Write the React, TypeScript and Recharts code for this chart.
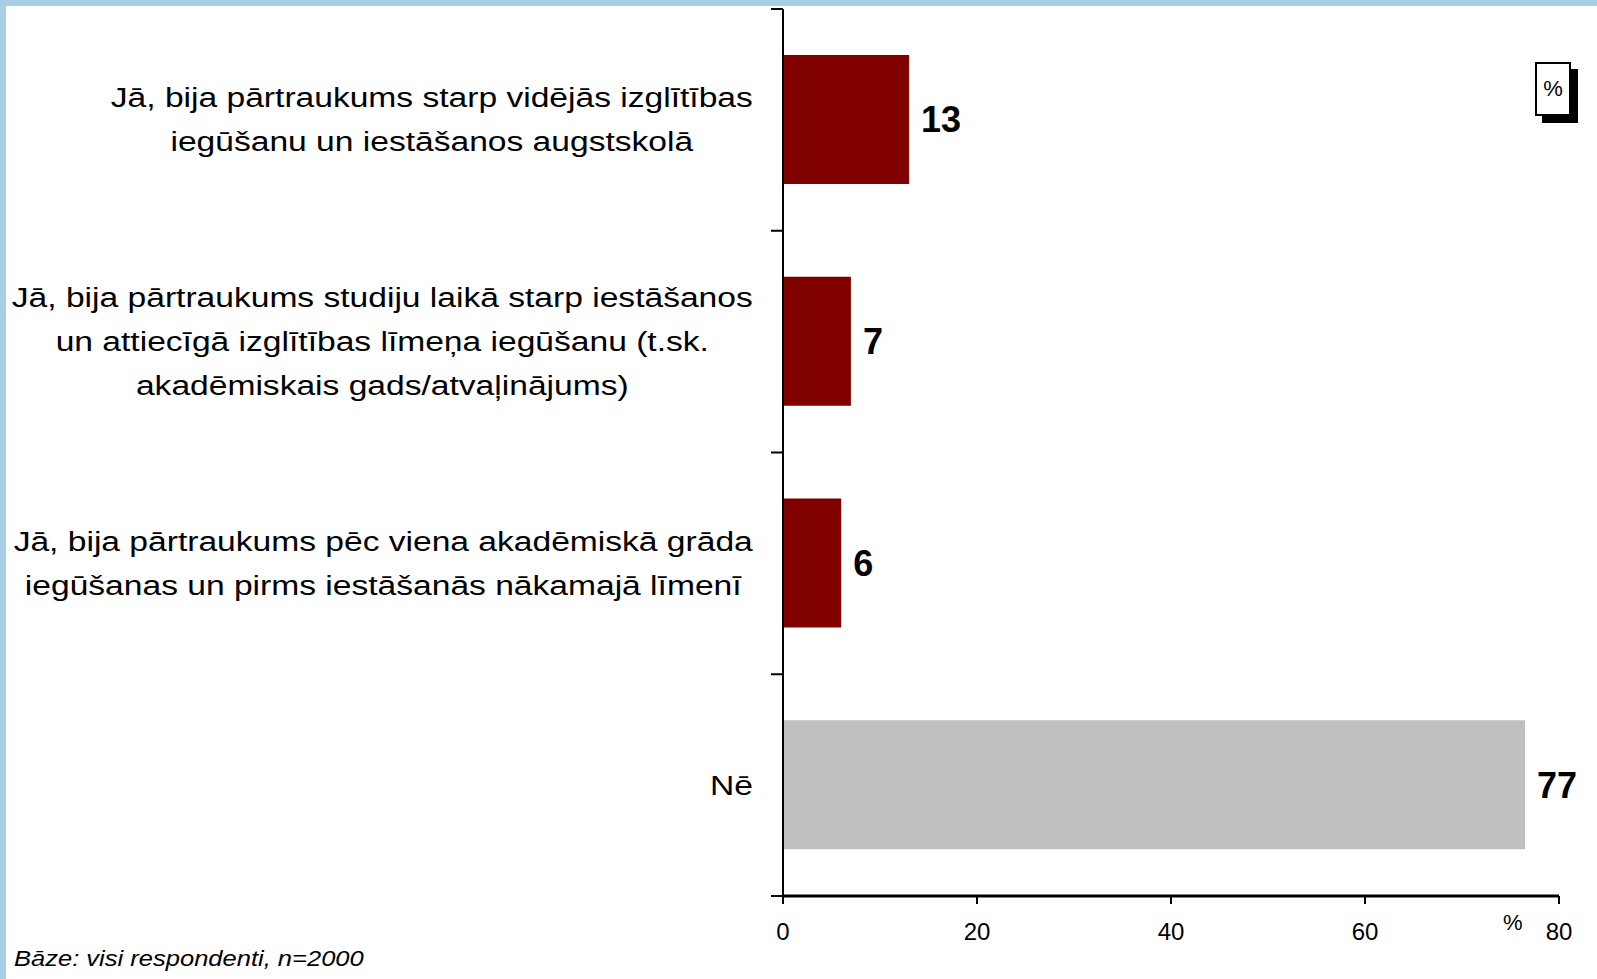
import React from 'react'
import { BarChart, Bar, XAxis, YAxis, Cell, LabelList } from 'recharts'

const categories = [
  'Jā, bija pārtraukums starp vidējās izglītības\niegūšanu un iestāšanos augstskolā',
  'Jā, bija pārtraukums studiju laikā starp iestāšanos\nun attiecīgā izglītības līmeņa iegūšanu (t.sk.\nakadēmiskais gads/atvaļinājums)',
  'Jā, bija pārtraukums pēc viena akadēmiskā grāda\niegūšanas un pirms iestāšanās nākamajā līmenī',
  'Nē',
]
const values = [13, 7, 6, 76.5]
const barColors = ['#800000', '#800000', '#800000', '#C0C0C0']
const xTicks = [0, 20, 40, 60, 80]

const data = categories.map((name, i) => ({ name, value: values[i] }))

const FONT = '"Liberation Sans", Arial, sans-serif'
const LABEL_SIZE = 28
const STRETCH = 1.2
const LINE_GAP = 44

let ctx: CanvasRenderingContext2D | null = null
function textWidth(s: string) {
  if (!ctx) ctx = document.createElement('canvas').getContext('2d')
  if (!ctx) return s.length * LABEL_SIZE * 0.5 * STRETCH
  ctx.font = `${LABEL_SIZE}px ${FONT}`
  return ctx.measureText(s).width * STRETCH
}

const CategoryTick = (props: any) => {
  const { x, y, payload, index, visibleTicksCount } = props
  const half = payload.offset || 110
  const lines: string[] = String(payload.value).split('\n')
  const blockW = Math.max(...lines.map(textWidth))
  const cx = x - 30 - blockW / 2
  const last = index === (visibleTicksCount ?? 4) - 1
  return (
    <g>
      <line x1={x - 12} x2={x} y1={y - half} y2={y - half} stroke="#000" strokeWidth={2} />
      {last && <line x1={x - 12} x2={x} y1={y + half} y2={y + half} stroke="#000" strokeWidth={2} />}
      {lines.map((l, i) => (
        <text
          key={i}
          transform={`translate(${cx},${y + (i - (lines.length - 1) / 2) * LINE_GAP}) scale(${STRETCH},1)`}
          textAnchor="middle"
          dominantBaseline="central"
          fontSize={LABEL_SIZE}
          fontFamily={FONT}
          fill="#000"
        >
          {l}
        </text>
      ))}
    </g>
  )
}

export default function App() {
  return (
    <div style={{ position: 'absolute', left: 0, top: 0, width: 1597, height: 979, background: '#a9cfe6', overflow: 'hidden' }}>
      <div style={{ position: 'absolute', left: 6, top: 6, right: 0, bottom: 0, background: '#fff' }} />
      <div style={{ position: 'absolute', left: 0, top: 0 }}>
        <BarChart
          width={1597}
          height={979}
          data={data}
          layout="vertical"
          margin={{ top: 9, right: 38, bottom: 43, left: 0 }}
          barSize={129}
        >
          <XAxis
            type="number"
            domain={[0, 80]}
            ticks={xTicks}
            allowDataOverflow
            axisLine={{ stroke: '#000', strokeWidth: 3 }}
            tickLine={{ stroke: '#000', strokeWidth: 2 }}
            tickSize={8}
            tickMargin={19}
            height={40}
            tick={{ fill: '#000', fontSize: 24, fontFamily: FONT }}
          />
          <YAxis
            type="category"
            dataKey="name"
            width={783}
            axisLine={{ stroke: '#000', strokeWidth: 2 }}
            tickLine={false}
            tickSize={0}
            tickMargin={0}
            interval={0}
            tick={<CategoryTick />}
          />
          <Bar dataKey="value" isAnimationActive={false}>
            {data.map((d, i) => (
              <Cell key={d.name} fill={barColors[i]} />
            ))}
            <LabelList
              dataKey="value"
              position="right"
              offset={12}
              formatter={(v: any) => Math.round(Number(v))}
              style={{ fill: '#000', fontSize: 36, fontWeight: 'bold', fontFamily: FONT }}
            />
          </Bar>
        </BarChart>
      </div>
      <div style={{ position: 'absolute', left: 1503, top: 910, fontSize: 22, fontFamily: FONT, color: '#000' }}>%</div>
      <div
        style={{
          position: 'absolute',
          left: 1535,
          top: 62,
          width: 32,
          height: 50,
          border: '2px solid #000',
          background: '#fff',
          boxShadow: '7px 7px 0 #000',
          fontSize: 22,
          fontFamily: FONT,
          display: 'flex',
          alignItems: 'center',
          justifyContent: 'center',
        }}
      >
        %
      </div>
      <div
        style={{
          position: 'absolute',
          left: 14,
          top: 946,
          fontSize: 22,
          fontStyle: 'italic',
          fontFamily: FONT,
          color: '#000',
          whiteSpace: 'nowrap',
          transform: 'scaleX(1.16)',
          transformOrigin: 'left top',
        }}
      >
        Bāze: visi respondenti, n=2000
      </div>
    </div>
  )
}
